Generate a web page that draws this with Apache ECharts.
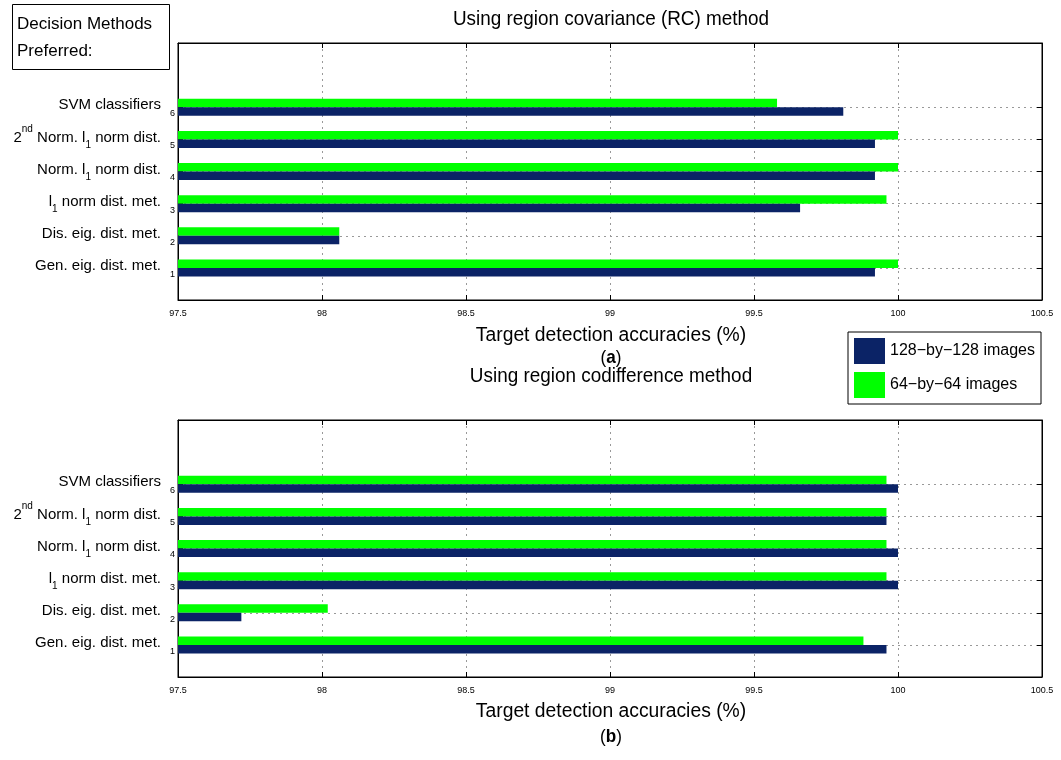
<!DOCTYPE html>
<html><head><meta charset="utf-8">
<script src="https://cdn.jsdelivr.net/npm/echarts@6/dist/echarts.min.js"></script>
<style>html,body{margin:0;padding:0;background:#fff}#c{width:1061px;height:760px}</style>
</head><body><div id="c"></div>
<script>
// ---- data ----
const categoryLabels = [
  '{n|Gen. eig. dist. met.}',
  '{n|Dis. eig. dist. met.}',
  '{n|l}{sub|1}{n| norm dist. met.}',
  '{n|Norm. l}{sub|1}{n| norm dist.}',
  '{n|2}{sup|nd}{n| Norm. l}{sub|1}{n| norm dist.}',
  '{n|SVM classifiers}'
];
const tickNumbers = ['1', '2', '3', '4', '5', '6'];
const seriesNames = ['128\u2212by\u2212128 images', '64\u2212by\u221264 images'];
const rc128 = [99.92, 98.06, 99.66, 99.92, 99.92, 99.81];
const rc64  = [100.0, 98.06, 99.96, 100.0, 100.0, 99.58];
const cd128 = [99.96, 97.72, 100.0, 100.0, 99.96, 100.0];
const cd64  = [99.88, 98.02, 99.96, 99.96, 99.96, 99.96];
const xMin = 97.5, xMax = 100.5, xStep = 0.5;
const titles = ['Using region covariance (RC) method', 'Using region codifference method'];
const xTitle = 'Target detection accuracies (%)';
const panelTags = ['a', 'b'];
const boxLines = ['Decision Methods', 'Preferred:'];

// ---- chart ----
const F = "'Liberation Sans',Arial,Helvetica,sans-serif";
const NAVY = '#0b2366', GREEN = '#00ff00';
const yData = [''].concat(categoryLabels).concat(['', '']);
const rich = {
  n: {fontSize: 15, lineHeight: 26, color: '#000', fontFamily: F},
  sub: {fontSize: 10, lineHeight: 7, verticalAlign: 'bottom', color: '#000', fontFamily: F},
  sup: {fontSize: 10, lineHeight: 12, verticalAlign: 'top', color: '#000', fontFamily: F},
  t: {fontSize: 9, lineHeight: 18, verticalAlign: 'bottom', color: '#000', fontFamily: F, padding: [0, 0, 0, 9]}
};
const inRows = (i) => i >= 1 && i <= 6;

const grids = [
  {left: 178, top: 43, width: 864, height: 257},
  {left: 178, top: 420, width: 864, height: 257}
];
const xAxes = [], yAxes = [];
grids.forEach((g, gi) => {
  xAxes.push({
    type: 'value', gridIndex: gi, position: 'bottom', min: xMin, max: xMax, interval: xStep,
    axisLine: {show: true, lineStyle: {color: '#000', width: 1}},
    axisTick: {show: true, inside: true, length: 5, lineStyle: {color: '#000'}},
    axisLabel: {margin: 9, fontSize: 9, color: '#000', fontFamily: F},
    splitLine: {show: true, lineStyle: {color: '#999', type: [2, 4], width: 1}}
  });
  xAxes.push({
    type: 'value', gridIndex: gi, position: 'top', min: xMin, max: xMax, interval: xStep,
    axisLine: {show: true, lineStyle: {color: '#000'}},
    axisTick: {show: true, inside: true, length: 5, lineStyle: {color: '#000'}},
    axisLabel: {show: false}, splitLine: {show: false}
  });
  yAxes.push({
    type: 'category', gridIndex: gi, position: 'left', data: yData, boundaryGap: false,
    axisLine: {show: true, lineStyle: {color: '#000'}},
    axisTick: {show: true, inside: true, length: 5, interval: (i) => inRows(i), lineStyle: {color: '#000'}},
    axisLabel: {
      interval: 0, margin: 3, padding: [0, 0, 4, 0], rich: rich,
      formatter: (v, i) => inRows(i) ? v + '{t|' + tickNumbers[i - 1] + '}' : ''
    },
    splitLine: {show: true, interval: (i) => inRows(i), lineStyle: {color: '#999', type: [2, 4], width: 1}}
  });
  yAxes.push({
    type: 'category', gridIndex: gi, position: 'right', data: yData, boundaryGap: false,
    axisLine: {show: true, lineStyle: {color: '#000'}},
    axisTick: {show: true, inside: true, length: 5, interval: (i) => inRows(i), lineStyle: {color: '#000'}},
    axisLabel: {show: false}, splitLine: {show: false}
  });
});

const mk = (name, vals, gi, color) => ({
  name: name, type: 'bar', xAxisIndex: gi * 2, yAxisIndex: gi * 2,
  data: vals.map((v, i) => [v, i + 1]),
  barWidth: 8.5, barGap: '0%',
  itemStyle: {color: color},
  emphasis: {disabled: true}, animation: false
});

const txt = (x, y, text, size, sx) => ({
  type: 'text', x: x, y: y, scaleX: sx, silent: true,
  style: {text: text, fontSize: size, fontFamily: F, fill: '#000', align: 'center', verticalAlign: 'middle'}
});
const tagRich = {p: {fontSize: 19, fontFamily: F, fill: '#000'}, b: {fontSize: 19, fontFamily: F, fontWeight: 'bold', fill: '#000'}};
const tag = (y, t) => ({type: 'text', x: 611, y: y, scaleX: 0.9, silent: true,
  style: {text: '{p|(}{b|' + t + '}{p|)}', align: 'center', verticalAlign: 'middle', rich: tagRich}});

const option = {
  animation: false,
  backgroundColor: '#fff',
  grid: grids.map(g => Object.assign({show: true, borderColor: '#000', borderWidth: 1, backgroundColor: 'transparent', containLabel: false, outerBoundsMode: 'none'}, g)),
  xAxis: xAxes,
  yAxis: yAxes,
  legend: {
    data: seriesNames, left: 848, top: 332, orient: 'vertical',
    icon: 'rect', itemWidth: 31, itemHeight: 26, itemGap: 8,
    padding: [6, 6, 6, 6], borderColor: '#000', borderWidth: 1, backgroundColor: '#fff',
    textStyle: {fontSize: 16, color: '#000', fontFamily: F},
    selectedMode: false
  },
  series: [
    mk(seriesNames[1], rc64, 0, GREEN),
    mk(seriesNames[0], rc128, 0, NAVY),
    mk(seriesNames[1], cd64, 1, GREEN),
    mk(seriesNames[0], cd128, 1, NAVY)
  ],
  graphic: [
    txt(611, 19, titles[0], 21, 0.9),
    txt(611, 335, xTitle, 20, 0.965),
    tag(358, panelTags[0]),
    txt(611, 376, titles[1], 21, 0.9),
    txt(611, 711, xTitle, 20, 0.965),
    tag(737, panelTags[1]),
    {type: 'rect', shape: {x: 12.5, y: 4.5, width: 157, height: 65}, style: {fill: '#fff', stroke: '#000', lineWidth: 1}, silent: true},
    {type: 'text', x: 17, y: 24, silent: true, style: {text: boxLines[0], fontSize: 17, fontFamily: F, fill: '#000', align: 'left', verticalAlign: 'middle'}},
    {type: 'text', x: 17, y: 51, silent: true, style: {text: boxLines[1], fontSize: 17, fontFamily: F, fill: '#000', align: 'left', verticalAlign: 'middle'}}
  ]
};
const chart = echarts.init(document.getElementById('c'), null, {renderer: 'canvas'});
chart.setOption(option);
</script></body></html>
